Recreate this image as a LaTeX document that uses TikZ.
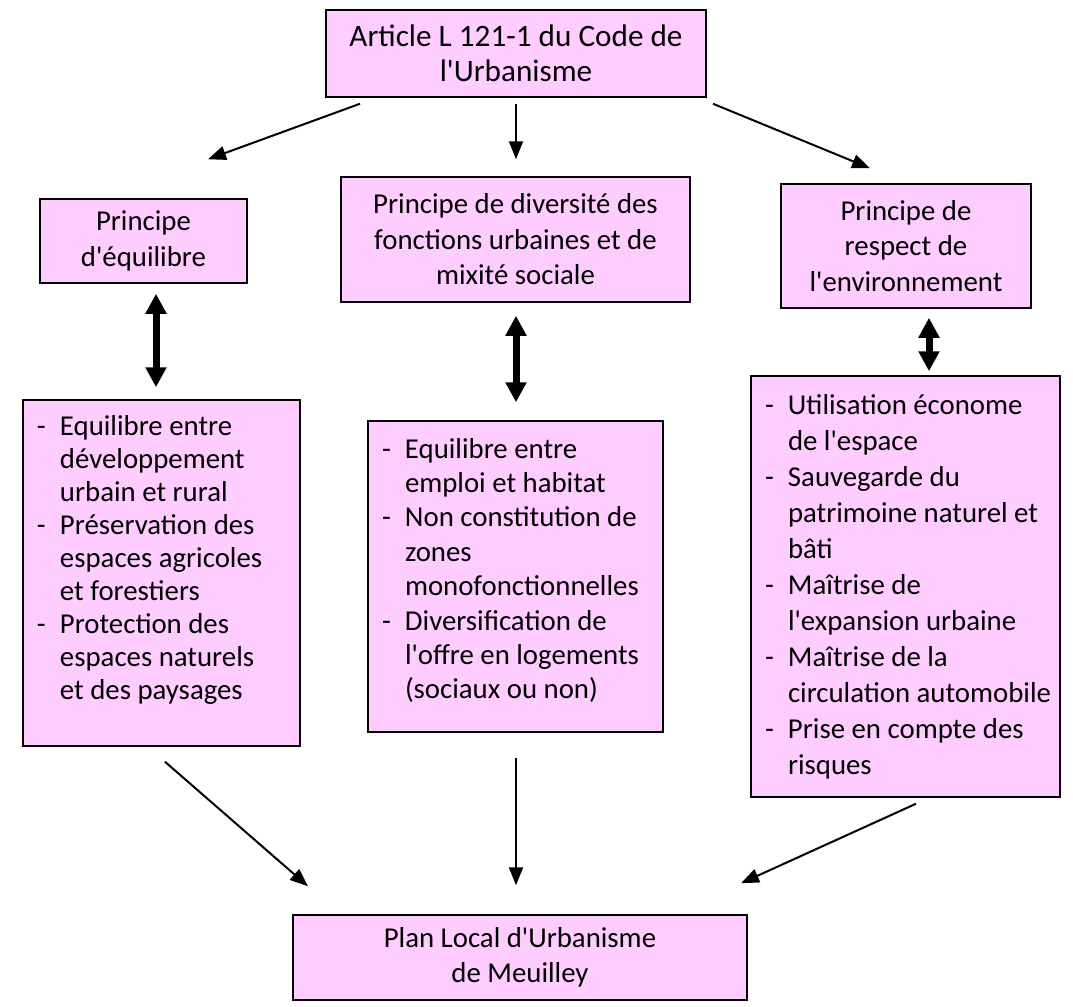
\documentclass[tikz,border=0pt]{standalone}
\usepackage{fontspec}
\setmainfont{Carlito}[Ligatures=TeXOff]
\usetikzlibrary{arrows.meta}
\definecolor{boxpink}{RGB}{255,204,255}
\newcommand{\txtsize}{\fontsize{14.4pt}{17.7pt}\selectfont}
\newcommand{\bigsize}{\fontsize{15.6pt}{17.5pt}\selectfont}
\newcommand{\itm}[1]{\makebox[11.5pt][l]{-}\mbox{#1}} % item with dash
\newcommand{\cnt}[1]{\hspace*{11.5pt}\mbox{#1}}        % continued line
\newcommand{\lift}[1]{\rule[-#1]{0pt}{#1}}             % room below the last line
\tikzset{
    box/.style={draw, fill=boxpink, line width=0.75pt, inner sep=0pt,
                align=center, font=\txtsize},
    listbox/.style={box, align=flush left, inner xsep=7pt,
                    font={\fontsize{14.4pt}{#1}\selectfont}},
    arr/.style={-{Triangle[length=9pt,width=7pt]}, line width=1pt},
    dbl/.style={{Triangle[length=10pt,width=10pt]}-{Triangle[length=10pt,width=10pt]},
                line width=3.5pt},
}
\begin{document}
\begin{tikzpicture}[x=0.5pt,y=-0.5pt]
    \useasboundingbox (0,0) rectangle (1073,1007);
    % article and the three principles
    \node[box, minimum width=190pt, minimum height=43.5pt, font=\bigsize] (art) at (516,53.5)
        {Article L 121-1 du Code de\\l'Urbanisme};
    \node[box, minimum width=103.5pt, minimum height=42pt] (equi) at (143.5,241)
        {Principe\\d'équilibre};
    \node[box, minimum width=174.5pt, minimum height=62.5pt] (div) at (515.5,239.5)
        {Principe de diversité des\\fonctions urbaines et de\\mixité sociale};
    \node[box, minimum width=125pt, minimum height=62pt] (env) at (906,246)
        {Principe de\\respect de\\l'environnement};
    % lists
    \node[listbox=16.5pt, text width=124.5pt, minimum height=173pt] (equilist) at (161.5,573)
        {\itm{Equilibre entre}\\\cnt{développement}\\\cnt{urbain et rural}\\
         \itm{Préservation des}\\\cnt{espaces agricoles}\\\cnt{et forestiers}\\
         \itm{Protection des}\\\cnt{espaces naturels}\\\cnt{et des paysages}\lift{15.5pt}};
    \node[listbox=17.2pt, text width=133.5pt, minimum height=155.5pt] (divlist) at (515.5,576.5)
        {\itm{Equilibre entre}\\\cnt{emploi et habitat}\\
         \itm{Non constitution de}\\\cnt{zones}\\\cnt{monofonctionnelles}\\
         \itm{Diversification de}\\\cnt{l'offre en logements}\\\cnt{(sociaux ou non)}\lift{8pt}};
    \node[listbox=18pt, text width=140.5pt, minimum height=210.5pt] (envlist) at (905.5,586.5)
        {\itm{Utilisation économe}\\\cnt{de l'espace}\\
         \itm{Sauvegarde du}\\\cnt{patrimoine naturel et}\\\cnt{bâti}\\
         \itm{Maîtrise de}\\\cnt{l'expansion urbaine}\\
         \itm{Maîtrise de la}\\\cnt{circulation automobile}\\
         \itm{Prise en compte des}\\\cnt{risques}};
    \node[box, minimum width=227pt, minimum height=42.5pt] (plu) at (520,957.5)
        {Plan Local d'Urbanisme\\de Meuilley};
    % arrows
    \draw[arr] ([shift={(-156,6)}]art.south) -- ([shift={(64.5,-39)}]equi.north);
    \draw[arr] ([shift={(0,6)}]art.south) -- ([shift={(0.5,-17)}]div.north);
    \draw[arr] ([shift={(197,6)}]art.south) -- ([shift={(-36,-15)}]env.north);
    \draw[dbl] ([shift={(12.5,10)}]equi.south) -- ([shift={(-5.5,-12)}]equilist.north);
    \draw[dbl] ([shift={(0.5,13)}]div.south) -- ([shift={(0.5,-18)}]divlist.north);
    \draw[dbl] ([shift={(23,9)}]env.south) -- ([shift={(23.5,-4)}]envlist.north);
    \draw[arr] ([shift={(3.5,15)}]equilist.south) -- ([shift={(-212,-28)}]plu.north);
    \draw[arr] ([shift={(0.5,25)}]divlist.south) -- ([shift={(-4,-29)}]plu.north);
    \draw[arr] ([shift={(10.5,6)}]envlist.south) -- ([shift={(221,-31)}]plu.north);
\end{tikzpicture}
\end{document}
